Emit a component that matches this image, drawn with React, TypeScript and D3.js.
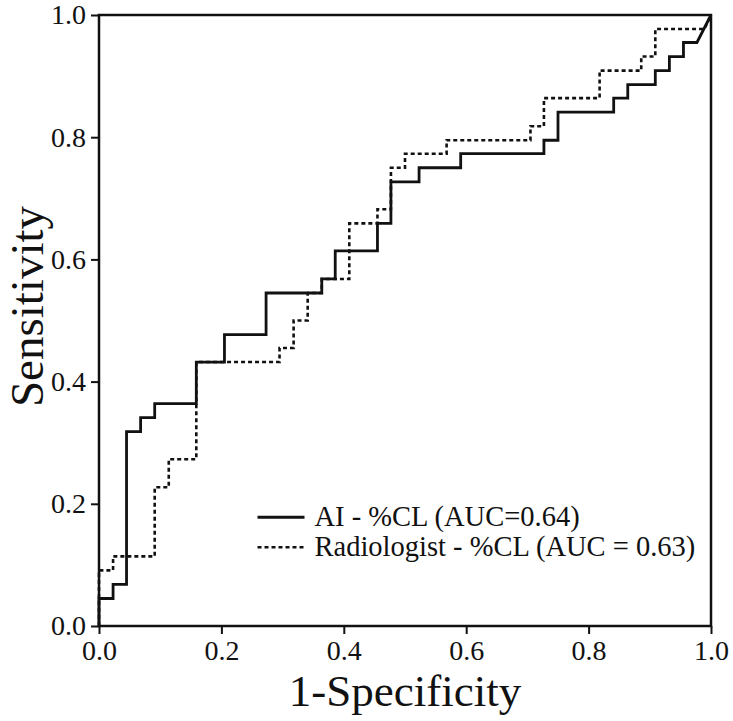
import React, { useRef, useEffect } from 'react';
import * as d3 from 'd3';

// ROC vertices (1-specificity, sensitivity)
const aiFpr = [0, 0, 0.023, 0.023, 0.045, 0.045, 0.068, 0.068, 0.091, 0.091, 0.159, 0.159, 0.205, 0.205, 0.273, 0.273, 0.364, 0.364, 0.386, 0.386, 0.455, 0.455, 0.477, 0.477, 0.523, 0.523, 0.591, 0.591, 0.727, 0.727, 0.75, 0.75, 0.841, 0.841, 0.864, 0.864, 0.909, 0.909, 0.932, 0.932, 0.955, 0.955, 0.977, 1];
const aiTpr = [0, 0.045, 0.045, 0.068, 0.068, 0.318, 0.318, 0.341, 0.341, 0.364, 0.364, 0.432, 0.432, 0.477, 0.477, 0.545, 0.545, 0.568, 0.568, 0.614, 0.614, 0.659, 0.659, 0.727, 0.727, 0.75, 0.75, 0.773, 0.773, 0.795, 0.795, 0.841, 0.841, 0.864, 0.864, 0.886, 0.886, 0.909, 0.909, 0.932, 0.932, 0.955, 0.955, 1];

const radFpr = [0, 0, 0.023, 0.023, 0.091, 0.091, 0.114, 0.114, 0.159, 0.159, 0.295, 0.295, 0.318, 0.318, 0.341, 0.341, 0.364, 0.364, 0.409, 0.409, 0.455, 0.455, 0.477, 0.477, 0.5, 0.5, 0.568, 0.568, 0.705, 0.705, 0.727, 0.727, 0.818, 0.818, 0.886, 0.886, 0.909, 0.909, 0.989, 1];
const radTpr = [0, 0.091, 0.091, 0.114, 0.114, 0.227, 0.227, 0.273, 0.273, 0.432, 0.432, 0.455, 0.455, 0.5, 0.5, 0.545, 0.545, 0.568, 0.568, 0.659, 0.659, 0.682, 0.682, 0.75, 0.75, 0.773, 0.773, 0.795, 0.795, 0.818, 0.818, 0.864, 0.864, 0.909, 0.909, 0.932, 0.932, 0.977, 0.977, 1];

const tickValues = [0, 0.2, 0.4, 0.6, 0.8, 1.0];
const legendLabels = ["AI - %CL (AUC=0.64)", "Radiologist - %CL (AUC = 0.63)"];

const FONT = "'Liberation Serif', 'Times New Roman', serif";
const INK = "#111";

export default function App() {
    const svgRef = useRef<SVGSVGElement>(null);
    const width = 733;
    const height = 721;

    useEffect(() => {
        if (!svgRef.current) return;
        document.body.style.margin = "0";

        d3.select(svgRef.current).selectAll("*").remove();

        const margin = { top: 15, right: 22, bottom: 95, left: 99 };
        const w = width - margin.left - margin.right;
        const h = height - margin.top - margin.bottom;

        const svg = d3.select(svgRef.current)
            .attr("width", width)
            .attr("height", height)
            .append("g")
            .attr("transform", `translate(${margin.left},${margin.top})`);

        const x = d3.scaleLinear().domain([0, 1]).range([0, w]);
        const y = d3.scaleLinear().domain([0, 1]).range([h, 0]);

        // Axes
        const xAxis = svg.append("g")
            .attr("transform", `translate(0,${h})`)
            .call(d3.axisBottom(x).tickValues(tickValues).tickFormat(d3.format(".1f")).tickSize(8).tickPadding(6));
        const yAxis = svg.append("g")
            .call(d3.axisLeft(y).tickValues(tickValues).tickFormat(d3.format(".1f")).tickSize(8).tickPadding(5));

        [xAxis, yAxis].forEach(a => {
            a.attr("font-family", FONT).attr("font-size", 28);
            a.select(".domain").remove();
            a.selectAll("line").attr("stroke", INK).attr("stroke-width", 2);
            a.selectAll("text")
                .style("font-family", FONT)
                .style("font-size", "28px")
                .attr("fill", INK);
        });

        // Frame
        svg.append("rect")
            .attr("x", 0).attr("y", 0)
            .attr("width", w).attr("height", h)
            .attr("fill", "none")
            .attr("stroke", INK)
            .attr("stroke-width", 2.5);

        const line = d3.line<[number, number]>()
            .x(d => x(d[0]))
            .y(d => y(d[1]));

        const aiPts = aiFpr.map((f, i) => [f, aiTpr[i]] as [number, number]);
        const radPts = radFpr.map((f, i) => [f, radTpr[i]] as [number, number]);

        svg.append("path")
            .datum(radPts)
            .attr("d", line)
            .attr("fill", "none")
            .attr("stroke", INK)
            .attr("stroke-width", 2.6)
            .attr("stroke-dasharray", "4 3");

        svg.append("path")
            .datum(aiPts)
            .attr("d", line)
            .attr("fill", "none")
            .attr("stroke", INK)
            .attr("stroke-width", 2.8);

        // Axis titles
        svg.append("text")
            .attr("x", w / 2)
            .attr("y", h + 80)
            .attr("text-anchor", "middle")
            .style("font-family", FONT)
            .style("font-size", "45px")
            .attr("fill", INK)
            .text("1-Specificity");

        svg.append("text")
            .attr("transform", `translate(${-margin.left + 43},${h / 2 - 14}) rotate(-90)`)
            .attr("text-anchor", "middle")
            .style("font-family", FONT)
            .style("font-size", "47px")
            .attr("fill", INK)
            .text("Sensitivity");

        // Legend
        const legend = svg.append("g").attr("transform", `translate(${x(0.259)},${y(0.178)})`);
        legendLabels.forEach((label, i) => {
            const row = legend.append("g").attr("transform", `translate(0,${i * 30})`);
            row.append("line")
                .attr("x1", 0).attr("x2", 47)
                .attr("y1", 0).attr("y2", 0)
                .attr("stroke", INK)
                .attr("stroke-width", i === 0 ? 2.8 : 2.6)
                .attr("stroke-dasharray", i === 0 ? null : "4 3");
            row.append("text")
                .attr("x", 57)
                .attr("y", 9)
                .style("font-family", FONT)
                .style("font-size", "28.5px")
                .attr("fill", INK)
                .text(label);
        });
    }, []);

    return (
        <div>
            <svg ref={svgRef} />
        </div>
    );
}
